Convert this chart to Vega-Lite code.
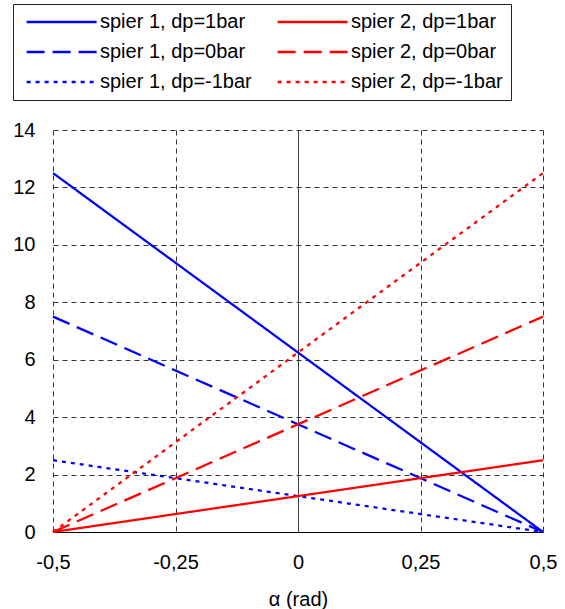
{
  "$schema": "https://vega.github.io/schema/vega-lite/v6.json",
  "autosize": "none",
  "padding": {"left": 53, "top": 130, "right": 22, "bottom": 77},
  "width": 490,
  "height": 402,
  "config": {"font": "Liberation Sans", "view": {"stroke": null}},
  "data": {"values": [
    {"serie": "spier 1, dp=1bar", "alpha": -0.5, "v": 12.5},
    {"serie": "spier 1, dp=1bar", "alpha": 0, "v": 6.25},
    {"serie": "spier 1, dp=1bar", "alpha": 0.5, "v": 0},
    {"serie": "spier 1, dp=0bar", "alpha": -0.5, "v": 7.5},
    {"serie": "spier 1, dp=0bar", "alpha": 0, "v": 3.75},
    {"serie": "spier 1, dp=0bar", "alpha": 0.5, "v": 0},
    {"serie": "spier 1, dp=-1bar", "alpha": -0.5, "v": 2.5},
    {"serie": "spier 1, dp=-1bar", "alpha": 0, "v": 1.25},
    {"serie": "spier 1, dp=-1bar", "alpha": 0.5, "v": 0},
    {"serie": "spier 2, dp=1bar", "alpha": -0.5, "v": 0},
    {"serie": "spier 2, dp=1bar", "alpha": 0, "v": 1.25},
    {"serie": "spier 2, dp=1bar", "alpha": 0.5, "v": 2.5},
    {"serie": "spier 2, dp=0bar", "alpha": -0.5, "v": 0},
    {"serie": "spier 2, dp=0bar", "alpha": 0, "v": 3.75},
    {"serie": "spier 2, dp=0bar", "alpha": 0.5, "v": 7.5},
    {"serie": "spier 2, dp=-1bar", "alpha": -0.5, "v": 0},
    {"serie": "spier 2, dp=-1bar", "alpha": 0, "v": 6.25},
    {"serie": "spier 2, dp=-1bar", "alpha": 0.5, "v": 12.5}
  ]},
  "mark": {"type": "line", "strokeWidth": 2.25},
  "encoding": {
    "x": {
      "field": "alpha", "type": "quantitative",
      "scale": {"domain": [-0.5, 0.5], "nice": false, "zero": false},
      "axis": {
        "values": [-0.5, -0.25, 0, 0.25, 0.5],
        "labelExpr": "replace(toString(datum.value), '.', ',')",
        "grid": true,
        "gridColor": {"condition": {"test": "datum.value === 0", "value": "#000000"}, "value": "#333333"},
        "gridDash": {"condition": {"test": "datum.value === 0", "value": [1, 0]}, "value": [5, 4]},
        "gridWidth": 1,
        "gridOpacity": 1,
        "ticks": false,
        "domain": true,
        "domainColor": "#000000",
        "domainWidth": 1.2,
        "labelFontSize": 20,
        "labelColor": "#000000",
        "labelPadding": 20,
        "labelFlush": false,
        "title": "α (rad)",
        "titleFontSize": 20,
        "titleFontWeight": "normal",
        "titleColor": "#000000",
        "titlePadding": 17
      }
    },
    "y": {
      "field": "v", "type": "quantitative",
      "scale": {"domain": [0, 14], "nice": false},
      "axis": {
        "values": [0, 2, 4, 6, 8, 10, 12, 14],
        "grid": true,
        "gridColor": "#333333",
        "gridDash": [5, 4],
        "gridWidth": 1,
        "gridOpacity": 1,
        "ticks": false,
        "domain": false,
        "labelFontSize": 20,
        "labelColor": "#000000",
        "labelPadding": 18,
        "title": null
      }
    },
    "color": {
      "field": "serie", "type": "nominal",
      "scale": {
        "domain": ["spier 1, dp=1bar", "spier 1, dp=0bar", "spier 1, dp=-1bar", "spier 2, dp=1bar", "spier 2, dp=0bar", "spier 2, dp=-1bar"],
        "range": ["#0000ff", "#0000ff", "#0000ff", "#ff0000", "#ff0000", "#ff0000"]
      },
      "legend": {
        "title": null,
        "orient": "none",
        "legendX": -40,
        "legendY": -126,
        "columns": 2,
        "symbolType": "M-0.5,0H7.5",
        "symbolSize": 306,
        "symbolStrokeWidth": 2.5,
        "symbolFillColor": "transparent",
        "labelFontSize": 20,
        "labelOffset": 59,
        "labelColor": "#000000",
        "labelLimit": 300,
        "strokeColor": "#222222",
        "padding": 8,
        "columnPadding": 20,
        "rowPadding": 10
      }
    },
    "strokeDash": {
      "field": "serie", "type": "nominal",
      "scale": {
        "domain": ["spier 1, dp=1bar", "spier 1, dp=0bar", "spier 1, dp=-1bar", "spier 2, dp=1bar", "spier 2, dp=0bar", "spier 2, dp=-1bar"],
        "range": [[1, 0], [18, 8], [4, 5], [1, 0], [18, 8], [4, 5]]
      }
    }
  }
}
